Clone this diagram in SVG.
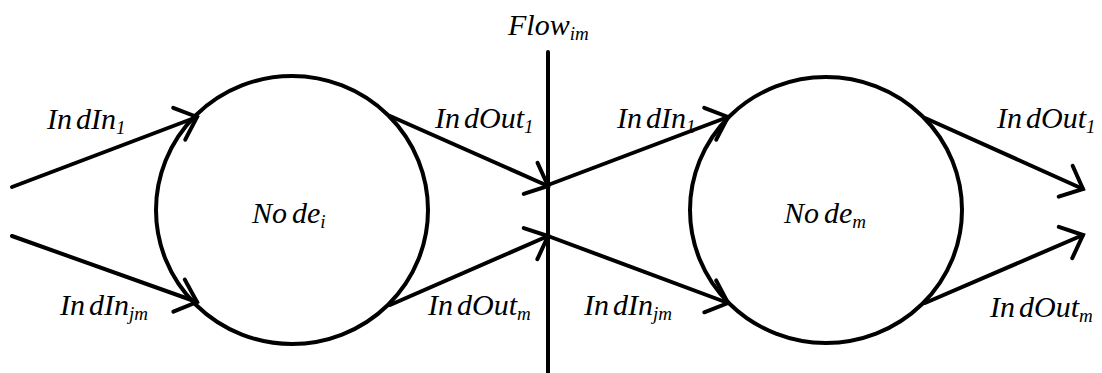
<svg xmlns="http://www.w3.org/2000/svg" width="1102" height="373" viewBox="0 0 1102 373">
<style>
.edge{stroke:#000;stroke-width:4;fill:none;stroke-linecap:round}
.node{stroke:#000;stroke-width:4;fill:#fff}
</style>
<defs>
<marker id="arr" markerUnits="userSpaceOnUse" markerWidth="60" markerHeight="60" refX="0" refY="0" orient="auto" overflow="visible">
<path d="M-19,-17 L0,0 L-19,17" fill="none" stroke="#000" stroke-width="4" stroke-linecap="round" stroke-linejoin="miter"/>
</marker>
</defs>
<rect width="1102" height="373" fill="#fff"/>
<g font-family="Liberation Serif" font-style="italic" font-size="30" fill="#000">
<g id="node-i">
<ellipse class="node" cx="292" cy="210" rx="136" ry="134"/>
<text x="252" y="223">No<tspan dx="5">de</tspan><tspan font-size="19" dy="5">i</tspan></text>
</g>
<g id="node-m">
<ellipse class="node" cx="826" cy="210" rx="136" ry="133"/>
<text x="784" y="223">No<tspan dx="5">de</tspan><tspan font-size="19" dy="5">m</tspan></text>
</g>
<g id="flow-im">
<line class="edge" x1="548" y1="52" x2="548" y2="373"/>
<text x="508" y="35">Flow<tspan font-size="19" dy="5">im</tspan></text>
</g>
<g id="connectors">
<line class="edge" x1="12" y1="187" x2="197" y2="117" marker-end="url(#arr)"/>
<line class="edge" x1="12" y1="236" x2="197" y2="302" marker-end="url(#arr)"/>
<line class="edge" x1="390" y1="116" x2="548" y2="186" marker-end="url(#arr)"/>
<line class="edge" x1="390" y1="305" x2="548" y2="236" marker-end="url(#arr)"/>
<line class="edge" x1="548" y1="185" x2="728" y2="117" marker-end="url(#arr)"/>
<line class="edge" x1="548" y1="236" x2="728" y2="303" marker-end="url(#arr)"/>
<line class="edge" x1="925" y1="118" x2="1083" y2="189" marker-end="url(#arr)"/>
<line class="edge" x1="925" y1="303" x2="1083" y2="235" marker-end="url(#arr)"/>
</g>
<g id="labels">
<text x="47" y="129">In<tspan dx="4">dIn</tspan><tspan font-size="19" dy="5">1</tspan></text>
<text x="60" y="315">In<tspan dx="4">dIn</tspan><tspan font-size="19" dy="5">jm</tspan></text>
<text x="435" y="128">In<tspan dx="4">dOut</tspan><tspan font-size="19" dy="5">1</tspan></text>
<text x="428" y="315">In<tspan dx="4">dOut</tspan><tspan font-size="19" dy="5">m</tspan></text>
<text x="617" y="128">In<tspan dx="4">dIn</tspan><tspan font-size="19" dy="5">1</tspan></text>
<text x="584" y="315">In<tspan dx="4">dIn</tspan><tspan font-size="19" dy="5">jm</tspan></text>
<text x="997" y="128">In<tspan dx="4">dOut</tspan><tspan font-size="19" dy="5">1</tspan></text>
<text x="990" y="317">In<tspan dx="4">dOut</tspan><tspan font-size="19" dy="5">m</tspan></text>
</g>
</g>
</svg>
